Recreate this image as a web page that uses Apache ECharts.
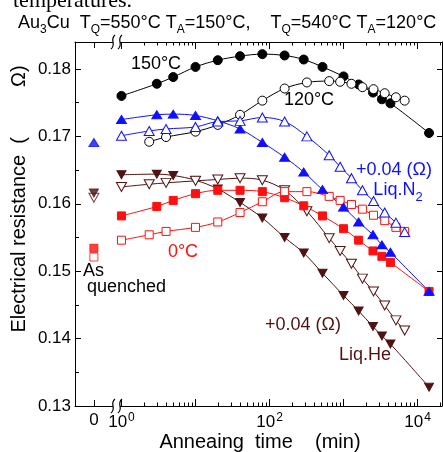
<!DOCTYPE html>
<html><head><meta charset="utf-8">
<script src="https://cdn.jsdelivr.net/npm/echarts@6/dist/echarts.min.js"></script>
<style>html,body{margin:0;padding:0;background:#fff}#c{width:443px;height:452px}</style>
</head><body><div id="c"></div>
<script>
// ---- data (annealing time in minutes, resistance in ohm) ----
const timesTQ550 = [1,3,5,10,20,40,80,160,290,520,1000,1600,2500,3300,4300,14300];
const timesTQ540 = [1,2.37,4,10,20,40,80,160,320,640,900,1280,1800,2540,3600,5100,6700];
const timesTQ540b = [2.37,4,10,20,40,80,160,320,640,900,1280,1800,2540,3600,5100,6700];

const anneal150 = [0.1760,0.1778,0.1788,0.1803,0.1813,0.1819,0.1822,0.1820,0.1814,0.1803,0.1789,0.1777,0.1765,0.1755,0.1749,0.1705];
const anneal120 = [0.1692,0.1699,0.1707,0.1717,0.1732,0.1753,0.1771,0.1780,0.1782,0.1781,0.1778,0.1773,0.1770,0.1764,0.1758,0.1753];
const liqN2_550 = [0.1725,0.1732,0.1733,0.1731,0.1723,0.1711,0.1691,0.1669,0.1647,0.1621,0.1595,0.1573,0.1554,0.1539,0.1528,0.1470];
const liqN2_540 = [0.1701,0.1708,0.1711,0.1714,0.1722,0.1723,0.1728,0.1722,0.1700,0.1672,0.1655,0.1638,0.1620,0.1604,0.1587,0.1572,0.1558];
const zeroC_550 = [0.1582,0.1596,0.1605,0.1615,0.1620,0.1620,0.1618,0.1609,0.1597,0.1582,0.1563,0.1546,0.1530,0.1522,0.1513,0.1470];
const zeroC_540 = [0.1546,0.1554,0.1559,0.1565,0.1573,0.1587,0.1603,0.1618,0.1618,0.1611,0.1605,0.1599,0.1592,0.1583,0.1575,0.1565,0.1559];
const liqHe_550 = [0.1643,0.1644,0.1642,0.1635,0.1622,0.1602,0.1579,0.1550,0.1527,0.1497,0.1464,0.1441,0.1418,0.1404,0.1392,0.1328];
const liqHe_540 = [0.1625,0.1629,0.1631,0.1634,0.1636,0.1638,0.1635,0.1620,0.1589,0.1549,0.1530,0.1511,0.1489,0.1470,0.1449,0.1427,0.1412];
// as-quenched values (time "0")
const aqLiqN2_550 = 0.1691, aqLiqHe_550 = 0.1616, aqLiqHe_540 = 0.1609, aqZero_550 = 0.1534, aqZero_540 = 0.1521;

// ---- ticks ----
const yMajorTicks = [0.13,0.14,0.15,0.16,0.17,0.18];
const yMinorTicks = [0.135,0.145,0.155,0.165,0.175];
const xMajorTicks = [1,10,100,1000,10000];
const xMinorTicks = [];
[1,10,100,1000,10000].forEach(d => { for (let k = 2; k <= 9; k++) xMinorTicks.push(k*d); });
const xLabelTicks = [1,100,10000];
const xZeroTick = [0];

const FONT = 'Liberation Sans, Arial, Helvetica, sans-serif';
const BLACK = '#000000', BLUE = '#1010ff', RED = '#ff1010', BROWN = '#501212';

const pair = (xs, ys) => xs.map((x, i) => [x, ys[i]]);

const chart = echarts.init(document.getElementById('c'), null, {renderer: 'canvas'});

const axLine = {show: true, onZero: false, lineStyle: {color: '#000', width: 1}};
const noLine = {show: false, onZero: false};
function logAxis(pos, ticks, len, showLine, labels) {
  return {
    gridIndex: 1, type: 'log', position: pos, min: 0.87, max: 21400,
    axisLine: showLine ? axLine : noLine,
    axisTick: {show: true, inside: true, length: len, customValues: ticks, lineStyle: {color: '#000', width: 1}},
    axisLabel: labels ? {
      show: true, customValues: labels, margin: 6, color: '#000', fontFamily: FONT, fontSize: 17,
      formatter: v => '10{p|' + Math.round(Math.log10(v)) + '}',
      rich: {p: {fontSize: 12, fontFamily: FONT, color: '#000', verticalAlign: 'top', padding: [0, 0, 8, 1]}}
    } : {show: false},
    splitLine: {show: false}, minorTick: {show: false}
  };
}
function zeroAxis(pos, labels) {
  return {
    gridIndex: 0, type: 'value', position: pos, min: -0.9, max: 1.1,
    axisLine: axLine,
    axisTick: {show: true, inside: true, length: 6, customValues: xZeroTick, lineStyle: {color: '#000'}},
    axisLabel: labels ? {show: true, customValues: xZeroTick, margin: 6, color: '#000', fontFamily: FONT, fontSize: 17, formatter: v => String(v)} : {show: false},
    splitLine: {show: false}
  };
}
function yAx(grid, pos, ticks, len, showLine, labels) {
  return {
    gridIndex: grid, type: 'value', position: pos, min: 0.13, max: 0.184,
    axisLine: showLine ? axLine : noLine,
    axisTick: {show: true, inside: true, length: len, customValues: ticks, lineStyle: {color: '#000'}},
    axisLabel: labels ? {show: true, customValues: labels, margin: 4, color: '#000', fontFamily: FONT, fontSize: 17, formatter: v => v.toFixed(2)} : {show: false},
    splitLine: {show: false}
  };
}

function lineSeries(xs, ys, color, symbol, open, rotate, size) {
  return {
    type: 'line', xAxisIndex: 2, yAxisIndex: 2, data: pair(xs, ys),
    smooth: 0.35, clip: false,
    symbol: symbol, symbolSize: size, symbolRotate: rotate || 0, showSymbol: true,
    lineStyle: {color: color, width: 1},
    itemStyle: {color: open ? '#ffffff' : color, borderColor: color, borderWidth: 1},
    emphasis: {disabled: true}, animation: false, z: 3
  };
}
function aqSeries(y, color, symbol, open, rotate, size) {
  return {
    type: 'scatter', xAxisIndex: 0, yAxisIndex: 0, data: [[0, y]],
    symbol: symbol, symbolSize: size, symbolRotate: rotate || 0,
    itemStyle: {color: open ? '#ffffff' : color, borderColor: color, borderWidth: 1},
    emphasis: {disabled: true}, animation: false, z: 4
  };
}

const T = (t, x, y, color, size, align) => ({
  type: 'text', x: x, y: y, z: 50,
  style: {text: t, fill: color, font: (size || 18) + 'px ' + FONT, textAlign: align || 'center', textVerticalAlign: 'middle'}
});

function breakMarks(cy) {
  const els = [{type: 'rect', z: 40, shape: {x: 113, y: cy - 3, width: 7, height: 6}, style: {fill: '#fff'}}];
  [113, 120].forEach(cx => els.push({
    type: 'bezierCurve', z: 41,
    shape: {x1: cx - 2, y1: cy + 7, cpx1: cx + 4, cpy1: cy + 2, cpx2: cx - 4, cpy2: cy - 2, x2: cx + 2, y2: cy - 7},
    style: {stroke: '#000', lineWidth: 1.2, fill: null}
  }));
  return els;
}

const option = {
  backgroundColor: '#fff',
  animation: false,
  textStyle: {fontFamily: FONT},
  title: [{
    text: '{n|Au}{s|3}{n|Cu  T}{s|Q}{n|=550°C T}{s|A}{n|=150°C,    T}{s|Q}{n|=540°C T}{s|A}{n|=120°C}',
    left: 13, top: 8,
    textStyle: {fontWeight: 'normal', rich: {
      n: {fontSize: 18, fontFamily: FONT, fontWeight: 'normal', color: '#000', lineHeight: 20},
      s: {fontSize: 12, fontFamily: FONT, fontWeight: 'normal', color: '#000', lineHeight: 20, verticalAlign: 'bottom', padding: [0, 0, -3, 0]}
    }}
  }],
  grid: [
    {left: 75, top: 42, width: 42, height: 364},
    {left: 117, top: 42, right: 1, height: 364}
  ],
  xAxis: [
    zeroAxis('bottom', true),
    zeroAxis('top', false),
    logAxis('bottom', xMajorTicks, 7, true, xLabelTicks),
    logAxis('bottom', xMinorTicks, 3.5, false, null),
    logAxis('top', xMajorTicks, 7, true, null),
    logAxis('top', xMinorTicks, 3.5, false, null)
  ],
  yAxis: [
    yAx(0, 'left', yMajorTicks, 6, true, yMajorTicks),
    yAx(0, 'left', yMinorTicks, 4, false, null),
    yAx(1, 'right', yMajorTicks, 5, true, null)
  ],
  series: [
    lineSeries(timesTQ550, anneal150, BLACK, 'circle', false, 0, 9),
    lineSeries(timesTQ540b, anneal120, BLACK, 'circle', true, 0, 9),
    lineSeries(timesTQ550, liqHe_550, BROWN, 'triangle', false, 180, [9, 8]),
    lineSeries(timesTQ540, liqHe_540, BROWN, 'triangle', true, 180, [10, 9]),
    lineSeries(timesTQ550, zeroC_550, RED, 'rect', false, 0, 8),
    lineSeries(timesTQ540, zeroC_540, RED, 'rect', true, 0, 8),
    lineSeries(timesTQ550, liqN2_550, BLUE, 'triangle', false, 0, [10, 8]),
    lineSeries(timesTQ540, liqN2_540, BLUE, 'triangle', true, 0, [10, 9]),
    aqSeries(aqLiqN2_550, BLUE, 'triangle', false, 0, [10, 8]),
    aqSeries(aqLiqHe_540, BROWN, 'triangle', true, 180, [10, 9]),
    aqSeries(aqLiqHe_550, BROWN, 'triangle', false, 180, [9, 8]),
    aqSeries(aqZero_540, RED, 'rect', true, 0, 8),
    aqSeries(aqZero_550, RED, 'rect', false, 0, 8)
  ],
  graphic: [
    {type: 'text', x: 13, y: -10, z: 50, style: {text: 'temperatures.', fill: '#000', font: '22px Liberation Serif, Times New Roman, serif', textVerticalAlign: 'top'}},
    {type: 'text', x: 19, y: 199, rotation: Math.PI / 2, z: 50,
     style: {text: 'Electrical resistance  (         Ω)', fill: '#000', font: '20px ' + FONT, textAlign: 'center', textVerticalAlign: 'middle'}},
    T('Anneaing  time    (min)', 260, 442, '#000', 20),
    T('150°C', 156, 64, BLACK, 18),
    T('120°C', 309, 100, BLACK, 18),
    T('+0.04 (Ω)', 394, 170, BLUE, 18),
    {type: 'text', x: 398, y: 190, z: 50, style: {
      text: '{n|Liq.N}{s|2}', textAlign: 'center', textVerticalAlign: 'middle',
      rich: {n: {fontSize: 18, fontFamily: FONT, fill: BLUE, lineHeight: 20},
             s: {fontSize: 13, fontFamily: FONT, fill: BLUE, lineHeight: 20, verticalAlign: 'bottom', padding: [0, 0, -4, 0]}}}},
    T('0°C', 183, 252, RED, 18),
    T('As', 83, 271, '#000', 18, 'left'),
    T('quenched', 87, 287, '#000', 18, 'left'),
    T('+0.04 (Ω)', 303, 325, BROWN, 18),
    T('Liq.He', 365, 355, BROWN, 18)
  ].concat(breakMarks(406), breakMarks(42))
};
chart.setOption(option);
</script></body></html>
